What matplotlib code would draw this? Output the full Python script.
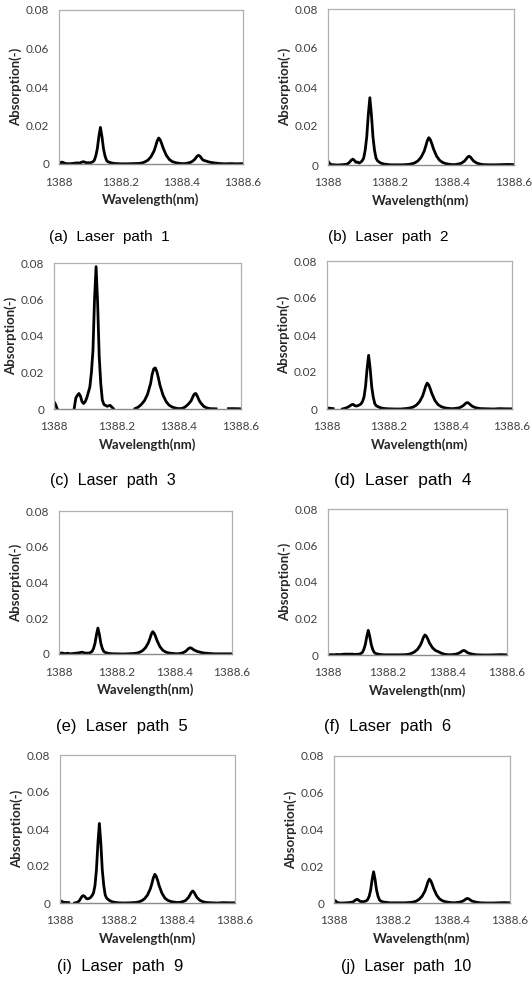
import numpy as np
import matplotlib
matplotlib.use("Agg")
import matplotlib.pyplot as plt

# wavelength sampling (nm), shared by all laser paths
wavelength = [
    1388.000, 1388.005, 1388.010, 1388.020, 1388.030, 1388.040, 1388.050, 1388.060, 1388.065, 1388.070,
    1388.075, 1388.080, 1388.085, 1388.090, 1388.095, 1388.100, 1388.105, 1388.110, 1388.115, 1388.120,
    1388.125, 1388.130, 1388.135, 1388.140, 1388.145, 1388.150, 1388.155, 1388.160, 1388.170, 1388.180,
    1388.190, 1388.200, 1388.220, 1388.240, 1388.260, 1388.270, 1388.280, 1388.290, 1388.300, 1388.310,
    1388.315, 1388.320, 1388.325, 1388.330, 1388.335, 1388.340, 1388.350, 1388.360, 1388.370, 1388.380,
    1388.390, 1388.400, 1388.410, 1388.420, 1388.430, 1388.440, 1388.445, 1388.450, 1388.455, 1388.460,
    1388.465, 1388.470, 1388.480, 1388.490, 1388.500, 1388.520, 1388.540, 1388.560, 1388.580, 1388.600,
]
nan = np.nan

# absorption spectra (-) for each laser path
path1 = [
    0.0012, 0.0005, 0.0010, 0.0003, 0.0001, 0.0002, 0.0004, 0.0006, 0.0004, 0.0007,
    0.0010, 0.0012, 0.0009, 0.0006, 0.0007, 0.0006, 0.0008, 0.0011, 0.0019, 0.0042,
    0.0080, 0.0143, 0.0190, 0.0143, 0.0080, 0.0042, 0.0019, 0.0011, 0.0006, 0.0003,
    0.0002, 0.0001, 0.0001, 0.0002, 0.0003, 0.0005, 0.0011, 0.0020, 0.0038, 0.0068,
    0.0092, 0.0119, 0.0135, 0.0126, 0.0105, 0.0081, 0.0045, 0.0023, 0.0012, 0.0007,
    0.0004, 0.0002, 0.0002, 0.0005, 0.0009, 0.0020, 0.0029, 0.0040, 0.0045, 0.0040,
    0.0029, 0.0020, 0.0015, 0.0010, 0.0007, 0.0003, 0.0001, 0.0002, 0.0001, 0.0002,
]
path2 = [
    0.0020, 0.0008, 0.0002, 0.0001, 0.0000, 0.0001, 0.0002, 0.0004, 0.0008, 0.0015,
    0.0025, 0.0030, 0.0024, 0.0014, 0.0015, 0.0010, 0.0014, 0.0021, 0.0035, 0.0076,
    0.0145, 0.0259, 0.0345, 0.0259, 0.0145, 0.0076, 0.0035, 0.0021, 0.0010, 0.0005,
    0.0003, 0.0001, 0.0001, 0.0001, 0.0003, 0.0006, 0.0011, 0.0021, 0.0039, 0.0070,
    0.0095, 0.0123, 0.0140, 0.0130, 0.0109, 0.0084, 0.0046, 0.0024, 0.0013, 0.0007,
    0.0004, 0.0002, 0.0002, 0.0005, 0.0009, 0.0020, 0.0029, 0.0040, 0.0045, 0.0040,
    0.0029, 0.0020, 0.0010, 0.0005, 0.0002, 0.0001, 0.0001, 0.0002, 0.0003, 0.0002,
]
path3 = [
    0.0040, 0.0025, 0.0002, nan, nan, nan, nan, nan, 0.0005, 0.0060,
    0.0075, 0.0085, 0.0070, 0.0040, 0.0030, 0.0040, 0.0060, 0.0090, 0.0120, 0.0200,
    0.0320, 0.0600, 0.0780, 0.0580, 0.0290, 0.0140, 0.0050, 0.0025, 0.0015, 0.0020,
    0.0003, nan, nan, nan, 0.0002, 0.0010, 0.0025, 0.0045, 0.0080, 0.0140,
    0.0190, 0.0220, 0.0225, 0.0205, 0.0170, 0.0130, 0.0075, 0.0040, 0.0020, 0.0010,
    0.0005, 0.0002, 0.0003, 0.0010, 0.0025, 0.0045, 0.0065, 0.0082, 0.0085, 0.0070,
    0.0050, 0.0035, 0.0015, 0.0006, 0.0002, 0.0001, nan, 0.0002, 0.0002, 0.0001,
]
path4 = [
    0.0006, 0.0005, 0.0004, 0.0002, nan, nan, 0.0000, 0.0005, 0.0008, 0.0012,
    0.0018, 0.0023, 0.0025, 0.0018, 0.0016, 0.0018, 0.0022, 0.0027, 0.0040, 0.0064,
    0.0122, 0.0218, 0.0290, 0.0218, 0.0120, 0.0064, 0.0029, 0.0017, 0.0009, 0.0004,
    0.0002, 0.0001, 0.0000, 0.0000, 0.0003, 0.0006, 0.0011, 0.0021, 0.0039, 0.0070,
    0.0095, 0.0123, 0.0140, 0.0130, 0.0109, 0.0084, 0.0046, 0.0024, 0.0013, 0.0007,
    0.0004, 0.0002, 0.0002, 0.0004, 0.0007, 0.0016, 0.0023, 0.0031, 0.0035, 0.0031,
    0.0023, 0.0016, 0.0008, 0.0004, 0.0002, 0.0001, 0.0000, 0.0002, 0.0001, 0.0001,
]
path5 = [
    0.0008, 0.0003, 0.0006, 0.0002, 0.0004, 0.0001, 0.0003, 0.0005, 0.0005, 0.0007,
    0.0009, 0.0010, 0.0008, 0.0005, 0.0005, 0.0005, 0.0006, 0.0009, 0.0015, 0.0032,
    0.0061, 0.0109, 0.0145, 0.0109, 0.0061, 0.0032, 0.0015, 0.0009, 0.0004, 0.0002,
    0.0001, 0.0001, 0.0000, 0.0001, 0.0003, 0.0005, 0.0010, 0.0019, 0.0035, 0.0063,
    0.0085, 0.0110, 0.0125, 0.0116, 0.0098, 0.0075, 0.0041, 0.0021, 0.0011, 0.0006,
    0.0004, 0.0002, 0.0001, 0.0003, 0.0007, 0.0016, 0.0024, 0.0031, 0.0035, 0.0032,
    0.0026, 0.0021, 0.0014, 0.0010, 0.0006, 0.0003, 0.0001, 0.0001, 0.0001, 0.0001,
]
path6 = [
    0.0002, 0.0001, 0.0002, 0.0001, 0.0003, 0.0002, 0.0004, 0.0005, 0.0004, 0.0005,
    0.0004, 0.0005, 0.0004, 0.0003, 0.0004, 0.0004, 0.0005, 0.0008, 0.0014, 0.0030,
    0.0057, 0.0101, 0.0135, 0.0101, 0.0057, 0.0030, 0.0014, 0.0008, 0.0004, 0.0002,
    0.0001, 0.0001, 0.0001, 0.0001, 0.0002, 0.0004, 0.0009, 0.0017, 0.0031, 0.0055,
    0.0075, 0.0097, 0.0110, 0.0102, 0.0086, 0.0066, 0.0040, 0.0025, 0.0018, 0.0010,
    0.0004, 0.0002, 0.0001, 0.0003, 0.0005, 0.0011, 0.0016, 0.0022, 0.0025, 0.0022,
    0.0016, 0.0011, 0.0006, 0.0003, 0.0001, 0.0000, 0.0000, 0.0001, 0.0002, 0.0001,
]
path9 = [
    0.0012, 0.0010, 0.0005, 0.0003, 0.0002, nan, 0.0000, 0.0004, 0.0010, 0.0022,
    0.0035, 0.0040, 0.0035, 0.0025, 0.0022, 0.0025, 0.0030, 0.0040, 0.0055, 0.0095,
    0.0181, 0.0323, 0.0430, 0.0323, 0.0178, 0.0095, 0.0043, 0.0026, 0.0013, 0.0006,
    0.0003, 0.0001, 0.0000, 0.0001, 0.0003, 0.0006, 0.0012, 0.0023, 0.0043, 0.0078,
    0.0105, 0.0136, 0.0155, 0.0144, 0.0121, 0.0093, 0.0051, 0.0026, 0.0014, 0.0008,
    0.0005, 0.0003, 0.0003, 0.0007, 0.0013, 0.0029, 0.0042, 0.0057, 0.0065, 0.0057,
    0.0042, 0.0029, 0.0014, 0.0007, 0.0003, 0.0001, 0.0000, 0.0002, 0.0001, 0.0001,
]
path10 = [
    0.0015, 0.0012, 0.0003, 0.0000, 0.0000, 0.0001, 0.0002, 0.0004, 0.0006, 0.0012,
    0.0018, 0.0020, 0.0014, 0.0008, 0.0008, 0.0007, 0.0009, 0.0012, 0.0019, 0.0037,
    0.0071, 0.0128, 0.0170, 0.0128, 0.0071, 0.0037, 0.0017, 0.0010, 0.0005, 0.0003,
    0.0001, 0.0001, 0.0001, 0.0001, 0.0003, 0.0005, 0.0010, 0.0020, 0.0036, 0.0065,
    0.0088, 0.0114, 0.0130, 0.0121, 0.0101, 0.0078, 0.0043, 0.0022, 0.0012, 0.0007,
    0.0004, 0.0002, 0.0001, 0.0003, 0.0005, 0.0011, 0.0016, 0.0022, 0.0025, 0.0022,
    0.0016, 0.0011, 0.0006, 0.0003, 0.0001, 0.0000, 0.0000, 0.0001, 0.0002, 0.0001,
]

captions = ["(a)  Laser  path  1", "(b)  Laser  path  2", "(c)  Laser  path  3",
            "(d)  Laser  path  4", "(e)  Laser  path  5", "(f)  Laser  path  6",
            "(i)  Laser  path  9", "(j)  Laser  path  10"]
spectra = [path1, path2, path3, path4, path5, path6, path9, path10]

x_ticks = [1388.0, 1388.2, 1388.4, 1388.6]
x_tick_labels = ["1388", "1388.2", "1388.4", "1388.6"]
y_ticks = [0, 0.02, 0.04, 0.06, 0.08]
y_tick_labels = ["0", "0.02", "0.04", "0.06", "0.08"]

# plot boxes in pixels: left, top, right, bottom  /  caption centre x, y, size
W, H = 532, 986
boxes = [(59, 10, 243, 164), (328, 9, 514, 165),
         (54, 263, 241, 409), (327, 261, 512, 409),
         (59, 511, 232, 654), (328, 509, 507, 655),
         (60, 755, 235, 903), (334, 756, 510, 903)]
cap_pos = [(109, 237, 11), (388, 237, 11), (113, 481, 11.5), (403, 481, 12.5),
           (122, 727, 12), (388, 727, 12), (120, 966, 12), (406, 966, 11.5)]

fig = plt.figure(figsize=(W / 100, H / 100), dpi=100)
fig.patch.set_facecolor("white")

for spec, cap, (l, t, r, b), (cx, cy, cs) in zip(spectra, captions, boxes, cap_pos):
    ax = fig.add_axes([l / W, 1 - b / H, (r - l) / W, (b - t) / H])
    ax.plot(wavelength, spec, color="black", linewidth=2.0, solid_joinstyle="round")
    ax.set_xlim(1388.0, 1388.6)
    ax.set_ylim(0, 0.08)
    ax.set_xticks(x_ticks, x_tick_labels)
    ax.set_yticks(y_ticks, y_tick_labels)
    ax.tick_params(axis="x", length=0, pad=9)
    ax.tick_params(axis="y", length=0, pad=7)
    for lab in ax.get_xticklabels() + ax.get_yticklabels():
        lab.set_fontfamily("Lato")
        lab.set_fontsize(8.5)
        lab.set_color("#404040")
    for side in ["top", "right", "left"]:
        ax.spines[side].set_color("#b0b0b0")
        ax.spines[side].set_linewidth(0.9)
    ax.spines["bottom"].set_color("#8a8a8a")
    ax.spines["bottom"].set_linewidth(1.0)
    ax.set_xlabel("Wavelength(nm)", family="Lato", fontweight="bold", fontsize=9.5,
                  color="#262626", labelpad=4)
    ax.set_ylabel("Absorption(-)", family="Lato", fontweight="bold", fontsize=9.5,
                  color="#262626", labelpad=3)
    fig.text(cx / W, 1 - cy / H, cap, ha="center", va="center",
             family="Liberation Sans", fontsize=cs)

fig.savefig("out.png", dpi=100)
